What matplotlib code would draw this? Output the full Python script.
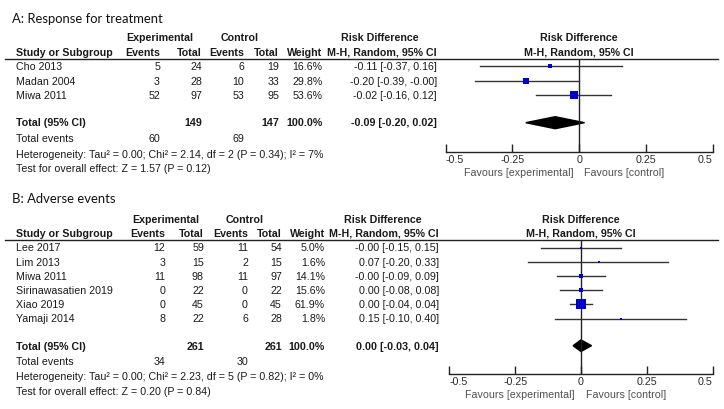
import matplotlib
matplotlib.use("Agg")
import matplotlib.pyplot as plt
from matplotlib.patches import Polygon

# ---------------- data ----------------
a_title = "A: Response for treatment"
a_studies = ["Cho 2013", "Madan 2004", "Miwa 2011"]
a_exp_events = [5, 3, 52]
a_exp_total = [24, 28, 97]
a_ctl_events = [6, 10, 53]
a_ctl_total = [19, 33, 95]
a_weight = [16.6, 29.8, 53.6]
a_rd = [-0.11, -0.20, -0.02]
a_lo = [-0.37, -0.39, -0.16]
a_hi = [0.16, -0.00, 0.12]
a_tot_exp, a_tot_ctl = 149, 147
a_tot_rd, a_tot_lo, a_tot_hi = -0.09, -0.20, 0.02
a_ev_exp, a_ev_ctl = 60, 69
a_het = "Heterogeneity: Tau\u00b2 = 0.00; Chi\u00b2 = 2.14, df = 2 (P = 0.34); I\u00b2 = 7%"
a_test = "Test for overall effect: Z = 1.57 (P = 0.12)"

b_title = "B: Adverse events"
b_studies = ["Lee 2017", "Lim 2013", "Miwa 2011", "Sirinawasatien 2019", "Xiao 2019", "Yamaji 2014"]
b_exp_events = [12, 3, 11, 0, 0, 8]
b_exp_total = [59, 15, 98, 22, 45, 22]
b_ctl_events = [11, 2, 11, 0, 0, 6]
b_ctl_total = [54, 15, 97, 22, 45, 28]
b_weight = [5.0, 1.6, 14.1, 15.6, 61.9, 1.8]
b_rd = [-0.00, 0.07, -0.00, 0.00, 0.00, 0.15]
b_lo = [-0.15, -0.20, -0.09, -0.08, -0.04, -0.10]
b_hi = [0.15, 0.33, 0.09, 0.08, 0.04, 0.40]
b_tot_exp, b_tot_ctl = 261, 261
b_tot_rd, b_tot_lo, b_tot_hi = 0.00, -0.03, 0.04
b_ev_exp, b_ev_ctl = 34, 30
b_het = "Heterogeneity: Tau\u00b2 = 0.00; Chi\u00b2 = 2.23, df = 5 (P = 0.82); I\u00b2 = 0%"
b_test = "Test for overall effect: Z = 0.20 (P = 0.84)"

x_ticks = [-0.5, -0.25, 0, 0.25, 0.5]
x_tick_labels = ["-0.5", "-0.25", "0", "0.25", "0.5"]

# ---------------- style / layout ----------------
W, H = 724, 409
FONT = ["Liberation Sans", "DejaVu Sans"]
TFONT = ["Lato", "DejaVu Sans"]
FS = 7.7
TXT = "#1a1a1a"
GREY = "#505050"
BLUE = "#0000cc"

fig = plt.figure(figsize=(W / 100, H / 100), dpi=100)
bg = fig.add_axes([0, 0, 1, 1])
bg.set_xlim(0, W)
bg.set_ylim(H, 0)
bg.axis("off")


def t(x, y, s, ha="left", bold=False, color=TXT, size=FS, family=FONT):
    bg.text(x, y, s, ha=ha, va="center", fontsize=size, color=color,
            fontweight="bold" if bold else "normal", family=family)


def fmt_ci(rd, lo, hi):
    return f"{rd:.2f} [{lo:.2f}, {hi:.2f}]"


def panel(L, title, studies, ee, et, ce, ct, w, rd, lo, hi,
          tot_e, tot_c, trd, tlo, thi, ev_e, ev_c, het, test):
    t(12, L["title"], title, size=9.4, family=TFONT, color="#111111")
    c = L["cols"]
    # headers
    t(L["exp_c"], L["h1"], "Experimental", ha="center", bold=True)
    t(L["ctl_c"], L["h1"], "Control", ha="center", bold=True)
    t(L["rd_c"], L["h1"], "Risk Difference", ha="center", bold=True)
    t(16, L["h2"], "Study or Subgroup", bold=True)
    t(c[0], L["h2"], "Events", ha="right", bold=True)
    t(c[1], L["h2"], "Total", ha="right", bold=True)
    t(c[2], L["h2"], "Events", ha="right", bold=True)
    t(c[3], L["h2"], "Total", ha="right", bold=True)
    t(c[4], L["h2"], "Weight", ha="right", bold=True)
    t(c[5], L["h2"], "M-H, Random, 95% CI", ha="right", bold=True)
    fx = (L["ax0"] + L["ax1"]) / 2
    t(fx, L["h1"], "Risk Difference", ha="center", bold=True)
    t(fx, L["h2"], "M-H, Random, 95% CI", ha="center", bold=True)
    bg.plot([5, 718], [L["line"], L["line"]], color="#222222", lw=1)

    ys = [L["row0"] + i * L["dy"] for i in range(len(studies))]
    for i, s in enumerate(studies):
        y = ys[i] + 0.8
        t(16, y, s)
        t(c[0], y, str(ee[i]), ha="right")
        t(c[1], y, str(et[i]), ha="right")
        t(c[2], y, str(ce[i]), ha="right")
        t(c[3], y, str(ct[i]), ha="right")
        t(c[4], y, f"{w[i]:.1f}%", ha="right")
        t(c[5], y, fmt_ci(rd[i], lo[i], hi[i]), ha="right")
    ty = L["tot"] + 0.8
    t(16, ty, "Total (95% CI)", bold=True)
    t(c[1], ty, str(tot_e), ha="right", bold=True)
    t(c[3], ty, str(tot_c), ha="right", bold=True)
    t(c[4], ty, "100.0%", ha="right", bold=True)
    t(c[5], ty, fmt_ci(trd, tlo, thi), ha="right", bold=True)
    t(16, L["ev"], "Total events")
    t(c[0], L["ev"], str(ev_e), ha="right")
    t(c[2], L["ev"], str(ev_c), ha="right")
    t(16, L["het"], het)
    t(16, L["test"], test)

    # forest plot axes (y in pixel units of the figure)
    x0, x1, yt, yb = L["ax0"], L["ax1"], L["line"], L["axis"]
    ax = fig.add_axes([x0 / W, 1 - yb / H, (x1 - x0) / W, (yb - yt) / H])
    ax.set_xlim(-0.5, 0.5)
    ax.set_ylim(yb, yt)
    ax.patch.set_alpha(0)
    for sp in ["left", "right", "top"]:
        ax.spines[sp].set_visible(False)
    ax.spines["bottom"].set_color("#222222")
    ax.spines["bottom"].set_linewidth(1)
    ax.set_yticks([])
    ax.set_xticks(x_ticks)
    ax.set_xticklabels(x_tick_labels, family=FONT, fontsize=FS, color="#2a2a2a")
    ax.tick_params(axis="x", direction="in", length=5.5, width=1,
                   color="#222222", pad=2.0)
    labs = ax.get_xticklabels()
    labs[0].set_ha("left")
    labs[-1].set_ha("right")
    ax.axvline(0, color="#222222", lw=1)
    for i in range(len(studies)):
        ax.plot([lo[i], hi[i]], [ys[i], ys[i]], color="#333333", lw=1.0)
        side = max(L["k"] * w[i] ** 0.5, 2.2)
        ax.plot([rd[i]], [ys[i]], marker="s", ms=side * 0.72, color=BLUE,
                mec=BLUE, mew=0, ls="none", zorder=3)
    h = L["dh"]
    ax.add_patch(Polygon([(tlo, L["tot"]), (trd, L["tot"] - h), (thi, L["tot"]),
                          (trd, L["tot"] + h)], closed=True, color="black"))
    zx = x0 + (0 - (-0.5)) / 1.0 * (x1 - x0)
    t(zx - 6, L["fav"], "Favours [experimental]", ha="right", color=GREY)
    t(zx + 5, L["fav"], "Favours [control]", ha="left", color=GREY)


LA = dict(title=19, h1=38, h2=52.5, line=59.3, row0=66.5, dy=14.3, tot=122.7,
          ev=139.5, het=155, test=169.5,
          cols=[160, 202, 244, 279, 322.5, 437],
          exp_c=160, ctl_c=240, rd_c=380,
          ax0=445.7, ax1=712.7, axis=152, fav=173.5, k=1.15, dh=6)
LB = dict(title=199, h1=220, h2=234, line=240.3, row0=247.5, dy=14.2, tot=345.7,
          ev=362.3, het=377, test=392,
          cols=[165, 204, 248, 282, 325, 439],
          exp_c=166, ctl_c=245, rd_c=383,
          ax0=449.3, ax1=712.7, axis=374, fav=395.5, k=1.25, dh=5.8)

panel(LA, a_title, a_studies, a_exp_events, a_exp_total, a_ctl_events, a_ctl_total,
      a_weight, a_rd, a_lo, a_hi, a_tot_exp, a_tot_ctl, a_tot_rd, a_tot_lo, a_tot_hi,
      a_ev_exp, a_ev_ctl, a_het, a_test)
panel(LB, b_title, b_studies, b_exp_events, b_exp_total, b_ctl_events, b_ctl_total,
      b_weight, b_rd, b_lo, b_hi, b_tot_exp, b_tot_ctl, b_tot_rd, b_tot_lo, b_tot_hi,
      b_ev_exp, b_ev_ctl, b_het, b_test)

fig.savefig("out.png", dpi=100, facecolor="white")
